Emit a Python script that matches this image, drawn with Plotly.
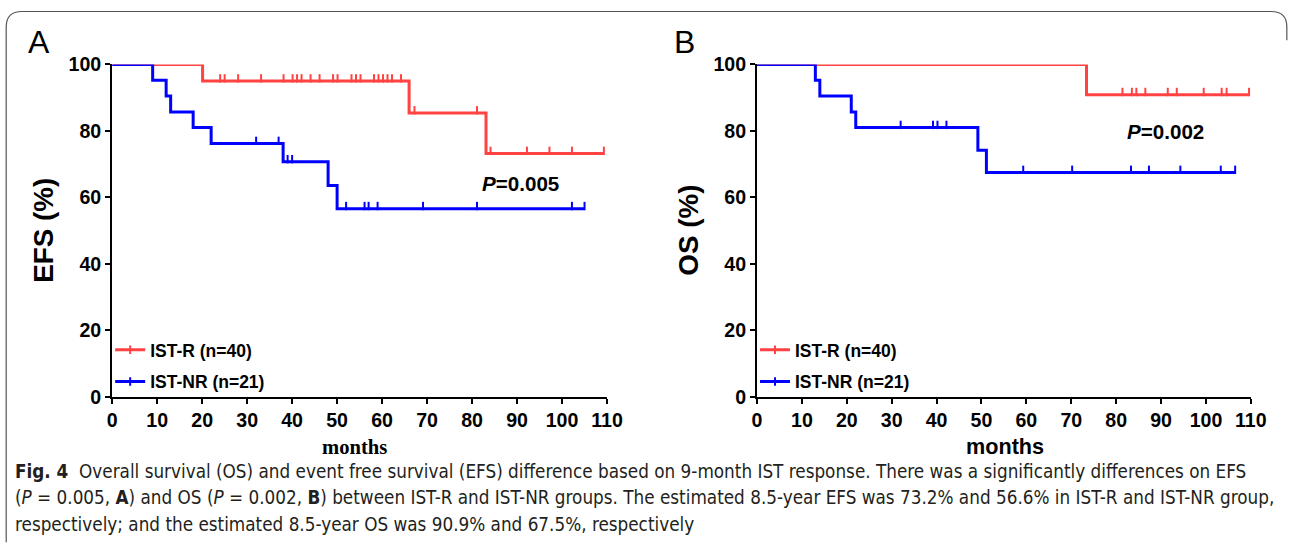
import numpy as np
import plotly.graph_objects as go

# ---------------- data ----------------
months_ticks = [0, 10, 20, 30, 40, 50, 60, 70, 80, 90, 100, 110]
pct_ticks = [0, 20, 40, 60, 80, 100]

# Panel A: EFS
efs_r_event_t = [20.1, 66.0, 83.1]
efs_r_event_s = [95.0, 85.4, 73.2]
efs_r_cens = [19.1, 24.0, 25.0, 28.0, 33.1, 38.1, 40.1, 41.1, 42.1, 44.1, 46.1,
              49.1, 50.1, 53.2, 54.2, 55.2, 58.2, 59.2, 60.2, 61.2, 62.2, 64.2,
              67.2, 81.1, 84.1, 92.2, 97.2, 102.2, 109.3]

efs_nr_event_t = [9.0, 12.0, 13.0, 18.0, 22.0, 38.0, 48.0, 50.0]
efs_nr_event_s = [95.2, 90.5, 85.7, 81.0, 76.2, 70.7, 63.6, 56.6]
efs_nr_cens = [32.0, 37.0, 39.0, 40.0, 52.0, 56.1, 57.0, 59.0, 69.1, 81.1,
               102.2, 105.0]

# Panel B: OS
os_r_event_t = [73.4]
os_r_event_s = [90.9]
os_r_cens = [19.1, 26.1, 29.2, 34.2, 38.2, 41.2, 42.2, 43.2, 45.2, 47.3, 49.3,
             50.3, 51.3, 52.3, 53.3, 54.3, 55.3, 59.3, 60.3, 61.3, 62.3, 65.4,
             68.5, 81.4, 83.5, 84.5, 86.5, 91.5, 93.5, 99.5, 103.5, 104.6, 109.6]

os_nr_event_t = [13.0, 14.0, 21.0, 22.0, 49.2, 51.1]
os_nr_event_s = [95.2, 90.5, 85.7, 81.0, 74.2, 67.5]
os_nr_cens = [32.0, 39.2, 40.2, 42.2, 59.3, 70.2, 83.3, 87.3, 94.3, 103.3, 106.5]

label_r = "IST-R (n=40)"
label_nr = "IST-NR (n=21)"
p_a = "0.005"
p_b = "0.002"

RED = "#FF4242"
BLUE = "#0000FF"

W, H = 1290, 544
# the photographed page shows the figure slightly inset/scaled; compensate
SX, OX = 0.984, 3.8
SY, OY = 0.958, 10.7
FS = 1.03  # font compensation


def px_x(v):
    return ((v - OX) / SX) / W


def px_y(v):
    return 1 - ((v - OY) / SY) / H


def fs(v):
    return v * FS


def step_curve(ev_t, ev_s, cens):
    x = [0.0] + list(ev_t) + [max(cens)]
    y = [100.0] + list(ev_s) + [ev_s[-1]]
    return x, y


def surv_at(ev_t, ev_s, times):
    out = []
    for t in times:
        s = 100.0
        for et, es in zip(ev_t, ev_s):
            if et <= t:
                s = es
        out.append(s)
    return np.array(out)


fig = go.Figure()

panels = [
    ("x", "y", "legend",
     [(efs_r_event_t, efs_r_event_s, efs_r_cens, RED, label_r),
      (efs_nr_event_t, efs_nr_event_s, efs_nr_cens, BLUE, label_nr)]),
    ("x2", "y2", "legend2",
     [(os_r_event_t, os_r_event_s, os_r_cens, RED, label_r),
      (os_nr_event_t, os_nr_event_s, os_nr_cens, BLUE, label_nr)]),
]

for xa, ya, lg, groups in panels:
    for i, (et, es, cs, col, lab) in enumerate(groups):
        gx, gy = step_curve(et, es, cs)
        grp = f"{xa}-{i}"
        fig.add_trace(go.Scatter(
            x=gx, y=gy, mode="lines", line=dict(color=col, width=3, shape="hv"),
            xaxis=xa, yaxis=ya, showlegend=False, legendgroup=grp,
            hoverinfo="skip"))
        cy = surv_at(et, es, cs) + 0.8
        fig.add_trace(go.Scatter(
            x=cs, y=cy, mode="markers",
            marker=dict(symbol="line-ns", size=6, line=dict(color=col, width=2)),
            xaxis=xa, yaxis=ya, showlegend=False, legendgroup=grp,
            cliponaxis=False, hoverinfo="skip"))
        # legend entry (line with a censor tick)
        fig.add_trace(go.Scatter(
            x=[None], y=[None], mode="lines+markers", name=lab,
            line=dict(color=col, width=3),
            marker=dict(symbol="line-ns", size=6, line=dict(color=col, width=2)),
            xaxis=xa, yaxis=ya, legend=lg, legendgroup=grp, showlegend=True))

tickfont = dict(family="Liberation Sans, Arial, sans-serif", size=fs(19),
                color="black", weight="bold")

ydom = [px_y(396), px_y(64)]
axis_common = dict(showgrid=False, zeroline=False, showline=True, linecolor="black",
                   linewidth=2, ticks="outside", ticklen=5, tickwidth=2,
                   tickcolor="black", tickfont=tickfont, fixedrange=True)

legfont = dict(family="Liberation Sans, Arial, sans-serif", size=fs(17),
               color="black", weight="bold")
fig.update_layout(
    margin=dict(l=0, r=0, t=0, b=0),
    paper_bgcolor="white", plot_bgcolor="white",
    xaxis=dict(domain=[px_x(111), px_x(606)], range=[0, 110], tickvals=months_ticks,
               anchor="y", **axis_common),
    yaxis=dict(domain=ydom, range=[0, 100], tickvals=pct_ticks, anchor="x",
               **axis_common),
    xaxis2=dict(domain=[px_x(756), px_x(1250)], range=[0, 110], tickvals=months_ticks,
                anchor="y2", **axis_common),
    yaxis2=dict(domain=ydom, range=[0, 100], tickvals=pct_ticks, anchor="x2",
                **axis_common),
    legend=dict(x=px_x(109), y=px_y(331), xanchor="left", yanchor="top",
                bgcolor="rgba(0,0,0,0)", tracegroupgap=6, itemwidth=30,
                font=legfont),
    legend2=dict(x=px_x(754), y=px_y(331), xanchor="left", yanchor="top",
                 bgcolor="rgba(0,0,0,0)", tracegroupgap=6, itemwidth=30,
                 font=legfont),
)

ann = []
sans = "Liberation Sans, Arial, sans-serif"
# panel letters
ann.append(dict(text="A", x=px_x(38), y=px_y(42), font=dict(family=sans, size=fs(31), color="black")))
ann.append(dict(text="B", x=px_x(683), y=px_y(42), font=dict(family=sans, size=fs(31), color="black")))
# y titles
ann.append(dict(text="<b>EFS (%)</b>", x=px_x(42), y=px_y(230), textangle=-90,
                font=dict(family=sans, size=fs(27), color="black")))
ann.append(dict(text="<b>OS (%)</b>", x=px_x(688), y=px_y(230), textangle=-90,
                font=dict(family=sans, size=fs(27), color="black")))
# x titles
ann.append(dict(text="<b>months</b>", x=px_x(353), y=px_y(446),
                font=dict(family="Liberation Serif, Times New Roman, serif", size=fs(20), color="black")))
ann.append(dict(text="<b>months</b>", x=px_x(1004), y=px_y(445),
                font=dict(family=sans, size=fs(21), color="black")))
# p values
ann.append(dict(text=f"<b><i>P</i>={p_a}</b>", x=px_x(519), y=px_y(183),
                font=dict(family=sans, size=fs(20), color="black")))
ann.append(dict(text=f"<b><i>P</i>={p_b}</b>", x=px_x(1165), y=px_y(131),
                font=dict(family=sans, size=fs(20), color="black")))

cap_font = dict(family="Liberation Sans Narrow, DejaVu Sans Condensed, Roboto Condensed, Arial Narrow, sans-serif",
                size=fs(18.2), color="#231F20")
cap_lines = [
    "<b>Fig. 4</b>  Overall survival (OS) and event free survival (EFS) difference based on 9-month IST response. There was a significantly differences on EFS",
    f"(<i>P</i> = {p_a}, <b>A</b>) and OS (<i>P</i> = {p_b}, <b>B</b>) between IST-R and IST-NR groups. The estimated 8.5-year EFS was 73.2% and 56.6% in IST-R and IST-NR group,",
    "respectively; and the estimated 8.5-year OS was 90.9% and 67.5%, respectively",
]
for i, t in enumerate(cap_lines):
    ann.append(dict(text=t, x=px_x(12), y=px_y(470 + 26.5 * i), xanchor="left",
                    font=cap_font))

for a in ann:
    a.setdefault("xanchor", "center")
    a.update(xref="paper", yref="paper", yanchor="middle", showarrow=False)
fig.update_layout(annotations=ann)

# figure frame (rounded top corners)
x0, x1 = px_x(5), px_x(1286)
yt, yb = min(px_y(7), 0.999), px_y(541)
rx, ry = 16 / W, 16 / H
path = (f"M {x0},{yb} L {x0},{yt - ry} Q {x0},{yt} {x0 + rx},{yt} "
        f"L {x1 - rx},{yt} Q {x1},{yt} {x1},{yt - ry} L {x1},{px_y(40)}")
fig.add_shape(type="path", path=path, xref="paper", yref="paper",
              line=dict(color="#555555", width=1.2))

# let the figure fill the browser window exactly (no page margins / scrollbars)
fig.update_layout(autosize=True)
fig.write_html("out.html", config={"displayModeBar": False, "responsive": True},
               default_width="100vw", default_height="100vh",
               post_script="document.documentElement.style.margin='0';"
                           "document.documentElement.style.overflow='hidden';"
                           "document.body.style.margin='0';"
                           "document.body.style.padding='0';"
                           "document.body.style.overflow='hidden';"
                           "window.dispatchEvent(new Event('resize'));")
